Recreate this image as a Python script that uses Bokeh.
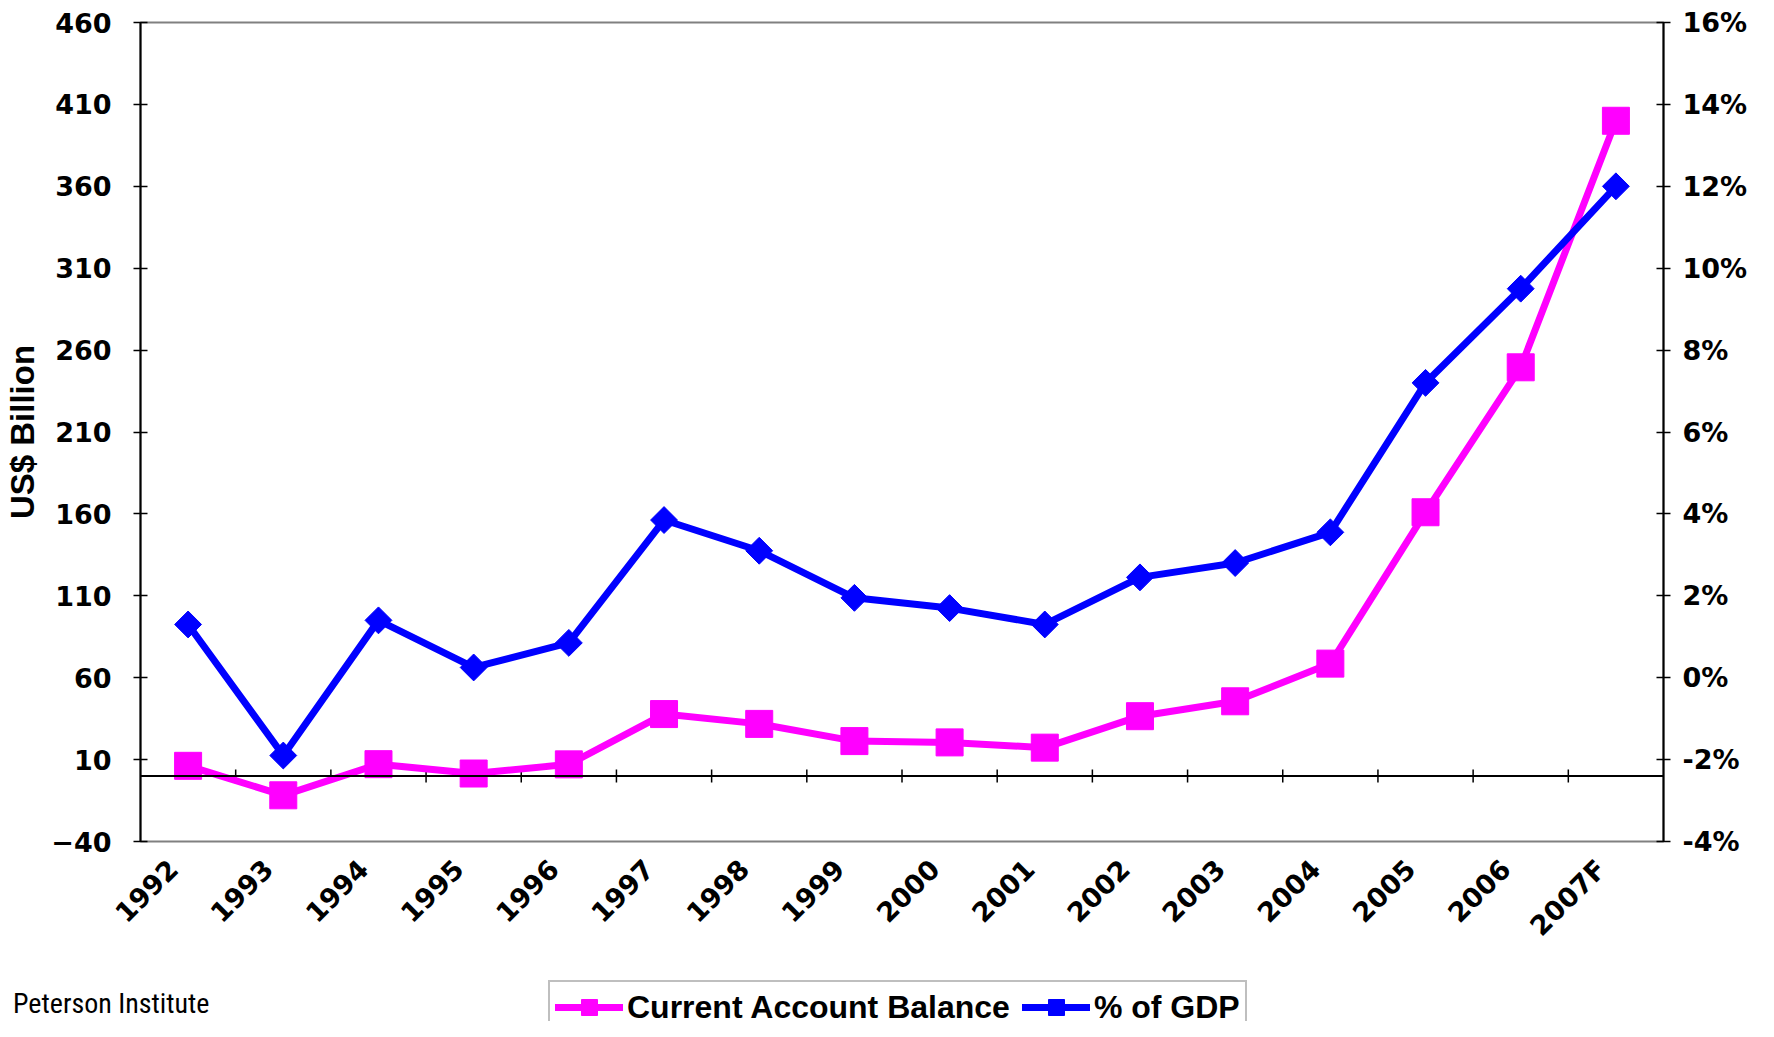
import math
from bokeh.plotting import figure
from bokeh.layouts import column
from bokeh.models import (Range1d, LinearAxis, FixedTicker, PrintfTickFormatter,
                          Legend, LegendItem, Span, ColumnDataSource)
from bokeh.embed import file_html
from bokeh.resources import INLINE

years = ["1992", "1993", "1994", "1995", "1996", "1997", "1998", "1999",
         "2000", "2001", "2002", "2003", "2004", "2005", "2006", "2007F"]
current_account = [6.2, -11.8, 7.2, 1.5, 7.1, 37.8, 31.8, 21.3, 20.5, 17.3,
                   36.5, 45.6, 68.6, 161.0, 249.5, 400.0]
pct_gdp = [1.3, -1.9, 1.4, 0.25, 0.85, 3.85, 3.1, 1.95, 1.7, 1.3,
           2.45, 2.8, 3.55, 7.2, 9.5, 12.0]
left_ticks = [-40, 10, 60, 110, 160, 210, 260, 310, 360, 410, 460]
right_ticks = [-4, -2, 0, 2, 4, 6, 8, 10, 12, 14, 16]
logo_text = "Peterson Institute"

MAGENTA = "#FF00FF"
BLUE = "#0000FF"
TICK_FONT = "DejaVu Sans"
TEXT_FONT = "Liberation Sans"
LOGO_FONT = "Roboto Condensed, DejaVu Sans Condensed, Liberation Sans Narrow, Roboto"

W = 1756
H_MAIN = 971
H_STRIP = 50

n = len(years)
# each year occupies one unit-wide category slot; points sit at slot centres
slot_center = [i + 0.5 for i in range(n)]
src = ColumnDataSource(dict(x=slot_center, year=years, cab=current_account, gdp=pct_gdp))
bsrc = ColumnDataSource(dict(x=list(range(1, n)), zero=[0] * (n - 1)))

p = figure(width=W, height=H_MAIN, x_range=Range1d(0, n),
           y_range=Range1d(-40, 460), output_backend="svg", toolbar_location=None,
           x_axis_location=None,
           min_border_left=140, min_border_right=93, min_border_top=22, min_border_bottom=130)
p.extra_y_ranges = {"pct": Range1d(-4, 16)}
# label range shifted so that year labels sit slightly left of slot centres
p.extra_x_ranges = {"lab": Range1d(-0.34375, n - 0.34375)}

p.xgrid.visible = False
p.ygrid.visible = False
p.outline_line_color = "#808080"
p.outline_line_width = 2
p.background_fill_color = "white"
p.border_fill_color = "white"

# left axis
ya = p.yaxis[0]
ya.ticker = FixedTicker(ticks=left_ticks)
ya.axis_label = "US$ Billion"
ya.axis_label_text_font = TEXT_FONT
ya.axis_label_text_font_style = "bold"
ya.axis_label_text_font_size = "33px"
ya.axis_label_text_color = "black"
ya.axis_label_standoff = 7
ya.major_label_text_font = TICK_FONT
ya.major_label_text_font_style = "bold"
ya.major_label_text_font_size = "27px"
ya.major_label_text_color = "black"
ya.major_label_standoff = 22
ya.axis_line_color = "black"
ya.axis_line_width = 2
ya.major_tick_line_color = "black"
ya.major_tick_line_width = 1.5
ya.major_tick_in = 7
ya.major_tick_out = 7
ya.minor_tick_line_color = None

# right axis
ra = LinearAxis(y_range_name="pct", ticker=FixedTicker(ticks=right_ticks),
                formatter=PrintfTickFormatter(format="%d%%"))
ra.major_label_text_font = TICK_FONT
ra.major_label_text_font_style = "bold"
ra.major_label_text_font_size = "27px"
ra.major_label_text_color = "black"
ra.major_label_standoff = 12
ra.axis_line_color = "black"
ra.axis_line_width = 2
ra.major_tick_line_color = "black"
ra.major_tick_line_width = 1.5
ra.major_tick_in = 7
ra.major_tick_out = 7
ra.minor_tick_line_color = None
p.add_layout(ra, "right")

# bottom axis: rotated year labels only
xa = LinearAxis(x_range_name="lab", ticker=FixedTicker(ticks=list(range(n))),
                major_label_overrides={i: y for i, y in enumerate(years)})
xa.axis_line_color = None
xa.major_tick_line_color = None
xa.minor_tick_line_color = None
xa.major_label_orientation = math.pi / 4
xa.major_label_text_font = TICK_FONT
xa.major_label_text_font_style = "bold"
xa.major_label_text_font_size = "27px"
xa.major_label_text_color = "black"
xa.major_label_standoff = 17
p.add_layout(xa, "below")

# zero line with slot-boundary ticks
p.add_layout(Span(location=0, dimension="width", line_color="black", line_width=2))
p.scatter(x="x", y="zero", source=bsrc, marker="dash",
          angle=math.pi / 2, size=13, line_color="black", line_width=1.5)

# series
p.line("x", "cab", source=src, line_color=MAGENTA, line_width=7)
p.scatter("x", "cab", source=src, marker="square", size=27,
          fill_color=MAGENTA, line_color=MAGENTA)
p.line("x", "gdp", source=src, y_range_name="pct", line_color=BLUE, line_width=7)
p.scatter("x", "gdp", source=src, y_range_name="pct", marker="square", angle=math.pi / 4,
          size=19, fill_color=BLUE, line_color=BLUE)

# bottom strip: legend and logo text (its frame is aligned with the main frame)
s = figure(width=W, height=H_STRIP, x_range=Range1d(0, 100), y_range=Range1d(0, H_STRIP),
           output_backend="svg", toolbar_location=None, x_axis_type=None, y_axis_type=None,
           min_border=0)
s.outline_line_color = None
s.grid.visible = False
s.background_fill_color = "white"
s.border_fill_color = "white"

# logo text carried by a bare axis label on the strip's left side
la = LinearAxis(ticker=FixedTicker(ticks=[18]), major_label_overrides={18: logo_text})
la.axis_line_color = None
la.major_tick_line_color = None
la.minor_tick_line_color = None
la.major_tick_in = 0
la.major_tick_out = 0
la.major_label_standoff = -69
la.major_label_text_font = LOGO_FONT
la.major_label_text_font_size = "28px"
la.major_label_text_color = "black"
s.add_layout(la, "left")

# legend-only renderers, placed outside the visible strip
off = dict(x=[-1000], y=[-1000])
dl1 = s.line(x=off["x"], y=off["y"], line_color=MAGENTA, line_width=7, line_cap="round")
ds1 = s.scatter(x=off["x"], y=off["y"], marker="square", size=27,
                fill_color=MAGENTA, line_color=MAGENTA)
dl2 = s.line(x=off["x"], y=off["y"], line_color=BLUE, line_width=7, line_cap="round")
ds2 = s.scatter(x=off["x"], y=off["y"], marker="square", angle=math.pi / 4, size=19,
                fill_color=BLUE, line_color=BLUE)

legend = Legend(items=[LegendItem(label="Current Account Balance", renderers=[dl1, ds1]),
                       LegendItem(label="% of GDP", renderers=[dl2, ds2])],
                orientation="horizontal", location=(408, -13))
legend.label_text_font = TEXT_FONT
legend.label_text_font_style = "bold"
legend.label_text_font_size = "32px"
legend.label_text_color = "black"
legend.glyph_width = 68
legend.glyph_height = 40
legend.label_height = 40
legend.label_standoff = 4
legend.spacing = 12
legend.padding = 5
legend.margin = 0
legend.border_line_color = "#808080"
legend.border_line_width = 2
legend.background_fill_alpha = 1
s.add_layout(legend, "center")

layout = column(p, s, spacing=0)
open("out.html", "w").write(file_html(layout, INLINE))
